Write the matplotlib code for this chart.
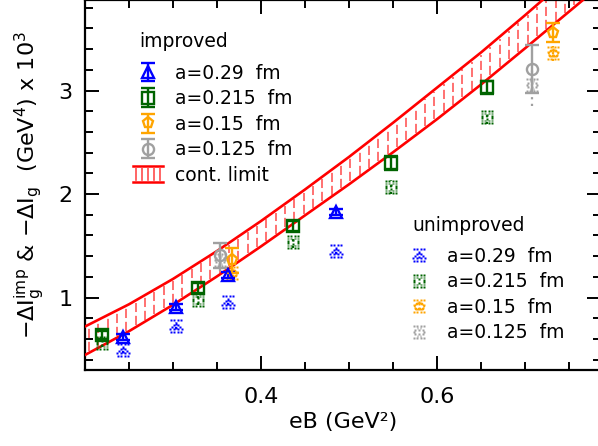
import numpy as np
import matplotlib
matplotlib.use('Agg')
import matplotlib.pyplot as plt
from matplotlib.path import Path
from matplotlib.transforms import Affine2D
from matplotlib.lines import Line2D
from matplotlib.legend_handler import HandlerBase
from matplotlib.ticker import MultipleLocator, FixedLocator

# ---------------- data ----------------
series_labels = ['a=0.29  fm', 'a=0.215  fm', 'a=0.15  fm', 'a=0.125  fm']
series_colors = ['#0000ff', '#006400', '#ffa500', '#a0a0a0']
series_markers = ['^', 's', 'p', 'o']

eb_029 = [0.243, 0.303, 0.3625, 0.485]
imp_029 = [0.62, 0.91, 1.22, 1.83]
imp_029_err = [0.03, 0.03, 0.03, 0.03]
unimp_029 = [0.495, 0.73, 0.96, 1.45]
unimp_029_err = [0.03, 0.03, 0.03, 0.03]

eb_0215 = [0.219, 0.328, 0.436, 0.547, 0.657]
imp_0215 = [0.64, 1.09, 1.69, 2.30, 3.03]
imp_0215_err = [0.04, 0.05, 0.05, 0.07, 0.06]
unimp_0215 = [0.56, 0.98, 1.54, 2.07, 2.74]
unimp_0215_err = [0.04, 0.05, 0.06, 0.07, 0.06]

eb_015 = [0.367, 0.731]
imp_015 = [1.36, 3.56]
imp_015_err = [0.12, 0.09]
unimp_015 = [1.24, 3.36]
unimp_015_err = [0.08, 0.07]

eb_0125 = [0.353, 0.708]
imp_0125 = [1.41, 3.21]
imp_0125_err = [0.12, 0.23]
unimp_0125 = [1.36, 3.05]
unimp_0125_err = [0.10, 0.20]

band_eb = [0.20, 0.25, 0.30, 0.35, 0.40, 0.45, 0.50, 0.55, 0.60, 0.65, 0.70, 0.75, 0.80]
band_upper = [0.72, 0.935, 1.18, 1.45, 1.74, 2.045, 2.36, 2.69, 3.03, 3.37, 3.73, 4.10, 4.48]
band_lower = [0.445, 0.675, 0.93, 1.205, 1.495, 1.795, 2.095, 2.405, 2.725, 3.06, 3.41, 3.765, 4.12]

x_ticks = [0.2, 0.4, 0.6, 0.8]
x_ticklabels = ['', '0.4', '0.6', '']
y_ticks = [1, 2, 3]
y_ticklabels = ['1', '2', '3']

# ---------------- style ----------------
plt.rcParams['font.family'] = ['DejaVu Sans']
plt.rcParams['mathtext.fontset'] = 'dejavusans'
plt.rcParams['mathtext.default'] = 'regular'

RED = '#ff0000'
HATCH = '#ff4a4a'
FS_LEG = 13.5


def dotted_marker(kind):
    """Marker made of small squares: dotted outline + dotted error bar."""
    pts = []
    if kind == 'o':
        t = np.linspace(0, 2 * np.pi, 11)[:-1]
        pts += list(zip(0.75 * np.cos(t), 0.6 * np.sin(t)))
    else:
        if kind == '^':
            poly = [(0, 0.55), (-0.9, -0.45), (0.9, -0.45)]
        elif kind == 's':
            poly = [(-0.75, -0.55), (0.75, -0.55), (0.75, 0.55), (-0.75, 0.55)]
        else:
            a = np.pi / 2 + np.arange(5) * 2 * np.pi / 5
            poly = list(zip(0.85 * np.cos(a), 0.65 * np.sin(a)))
        n = len(poly)
        for i in range(n):
            p0 = np.array(poly[i]); p1 = np.array(poly[(i + 1) % n])
            for f in np.linspace(0, 1, 4)[:-1]:
                pts.append(tuple(p0 + f * (p1 - p0)))
    for yy in (-0.3, 0.3):
        pts.append((0.0, yy))
    for yy in (-0.95, 0.95):
        for xx in (-0.8, -0.27, 0.27, 0.8):
            pts.append((xx, yy))
    d = 0.3
    rects = [Path.unit_rectangle().transformed(
        Affine2D().scale(d).translate(px - d / 2, py - d / 2)) for px, py in pts]
    return Path.make_compound_path(*rects)


class BandHandler(HandlerBase):
    def create_artists(self, legend, orig_handle, xdescent, ydescent,
                       width, height, fontsize, trans):
        x0, x1 = -xdescent, -xdescent + width
        y0, y1 = -ydescent - 1, -ydescent + height + 1
        arts = [Line2D([x0, x1], [y1, y1], color=RED, lw=1.8),
                Line2D([x0, x1], [y0, y0], color=RED, lw=1.8)]
        for xv in np.linspace(x0 + 2, x1 - 2, 5):
            arts.append(Line2D([xv, xv], [y0 + 1.5, y1 - 1.5], color=HATCH, lw=1.2))
        for a in arts:
            a.set_transform(trans)
        return arts


class BandProxy:
    pass


fig = plt.figure(figsize=(5.98, 4.46), dpi=100)
ax = fig.add_axes([0.1421, 0.1704, 0.8629, 0.8307])

# ---------------- continuum band ----------------
bx = np.array(band_eb)
bu = np.array(band_upper)
bl = np.array(band_lower)
ax.plot(bx, bu, color=RED, lw=1.9, zorder=3)
ax.plot(bx, bl, color=RED, lw=1.9, zorder=3)
hx = np.arange(0.2045, 0.79, 0.0106)
hlo = np.interp(hx, bx, bl)
hhi = np.interp(hx, bx, bu)
pad = 0.02
ax.vlines(hx, hlo + pad, hhi - pad, colors=HATCH, linewidth=1.1,
          linestyles=(0, (6, 2.5)), zorder=2)

# ---------------- unimproved (dotted) ----------------
eb_all = [eb_029, eb_0215, eb_015, eb_0125]
imp_all = [imp_029, imp_0215, imp_015, imp_0125]
imp_err_all = [imp_029_err, imp_0215_err, imp_015_err, imp_0125_err]
unimp_all = [unimp_029, unimp_0215, unimp_015, unimp_0125]
unimp_err_all = [unimp_029_err, unimp_0215_err, unimp_015_err, unimp_0125_err]

MS_U = 10
unimp_handles = []
for xs, ys, es, c, m in zip(eb_all, unimp_all, unimp_err_all, series_colors, series_markers):
    dm = dotted_marker(m)
    eb = ax.errorbar(xs, ys, yerr=es, fmt='none', ecolor=c, elinewidth=1.6,
                     capsize=0, zorder=4)
    eb[2][0].set_linestyle((0, (1, 2)))
    ax.plot(xs, ys, ls='none', marker=dm, markersize=MS_U, mfc=c, mec='none',
            zorder=4)
    unimp_handles.append(Line2D([], [], ls='none', marker=dm, markersize=MS_U,
                                mfc=c, mec='none'))

# ---------------- improved ----------------
imp_handles = []
for xs, ys, es, c, m in zip(eb_all, imp_all, imp_err_all, series_colors, series_markers):
    h = ax.errorbar(xs, ys, yerr=es, fmt=m, color=c, mfc='none', mec=c,
                    markersize=8, mew=1.7, elinewidth=1.7, capsize=5,
                    capthick=2.4, zorder=5)
    imp_handles.append(h)

# ---------------- axes ----------------
ax.set_xlim(0.2, 0.786)
ax.set_ylim(0.30, 3.88)
ax.xaxis.set_major_locator(FixedLocator(x_ticks))
ax.set_xticklabels(x_ticklabels)
ax.xaxis.set_minor_locator(MultipleLocator(0.05))
ax.yaxis.set_major_locator(FixedLocator(y_ticks))
ax.set_yticklabels(y_ticklabels)
ax.yaxis.set_minor_locator(MultipleLocator(0.2))
ax.tick_params(which='both', direction='in', top=True, right=True,
               labelsize=16, width=1.4)
ax.tick_params(which='major', length=10)
ax.tick_params(which='minor', length=5.5)
ax.tick_params(axis='x', pad=12)
ax.tick_params(axis='y', pad=9)
for s in ax.spines.values():
    s.set_linewidth(1.6)

ax.set_xlabel('eB (GeV²)', fontsize=16, labelpad=4)
ax.set_ylabel(r'$-\Delta I_g^{imp}$ & $-\Delta I_g$  (GeV$^4$) x 10$^3$',
              fontsize=16, labelpad=8)

# ---------------- legends ----------------
ax.text(0.1047, 0.888, 'improved', transform=ax.transAxes, fontsize=FS_LEG,
        ha='left', va='center')
leg1 = ax.legend(imp_handles + [BandProxy()], series_labels + ['cont. limit'],
                 handler_map={BandProxy: BandHandler()},
                 fontsize=FS_LEG,
                 loc='upper left', bbox_to_anchor=(0.093, 0.827),
                 frameon=False, borderpad=0, borderaxespad=0,
                 handlelength=1.6, handletextpad=0.66, labelspacing=0.35)
ax.add_artist(leg1)
ax.text(0.634, 0.391, 'unimproved', transform=ax.transAxes, fontsize=FS_LEG,
        ha='left', va='center')
leg2 = ax.legend(unimp_handles, series_labels,
                 fontsize=FS_LEG,
                 loc='upper left', bbox_to_anchor=(0.619, 0.333),
                 frameon=False, borderpad=0, borderaxespad=0,
                 handlelength=1.6, handletextpad=0.66, labelspacing=0.35)

fig.savefig('out.png', dpi=100)
